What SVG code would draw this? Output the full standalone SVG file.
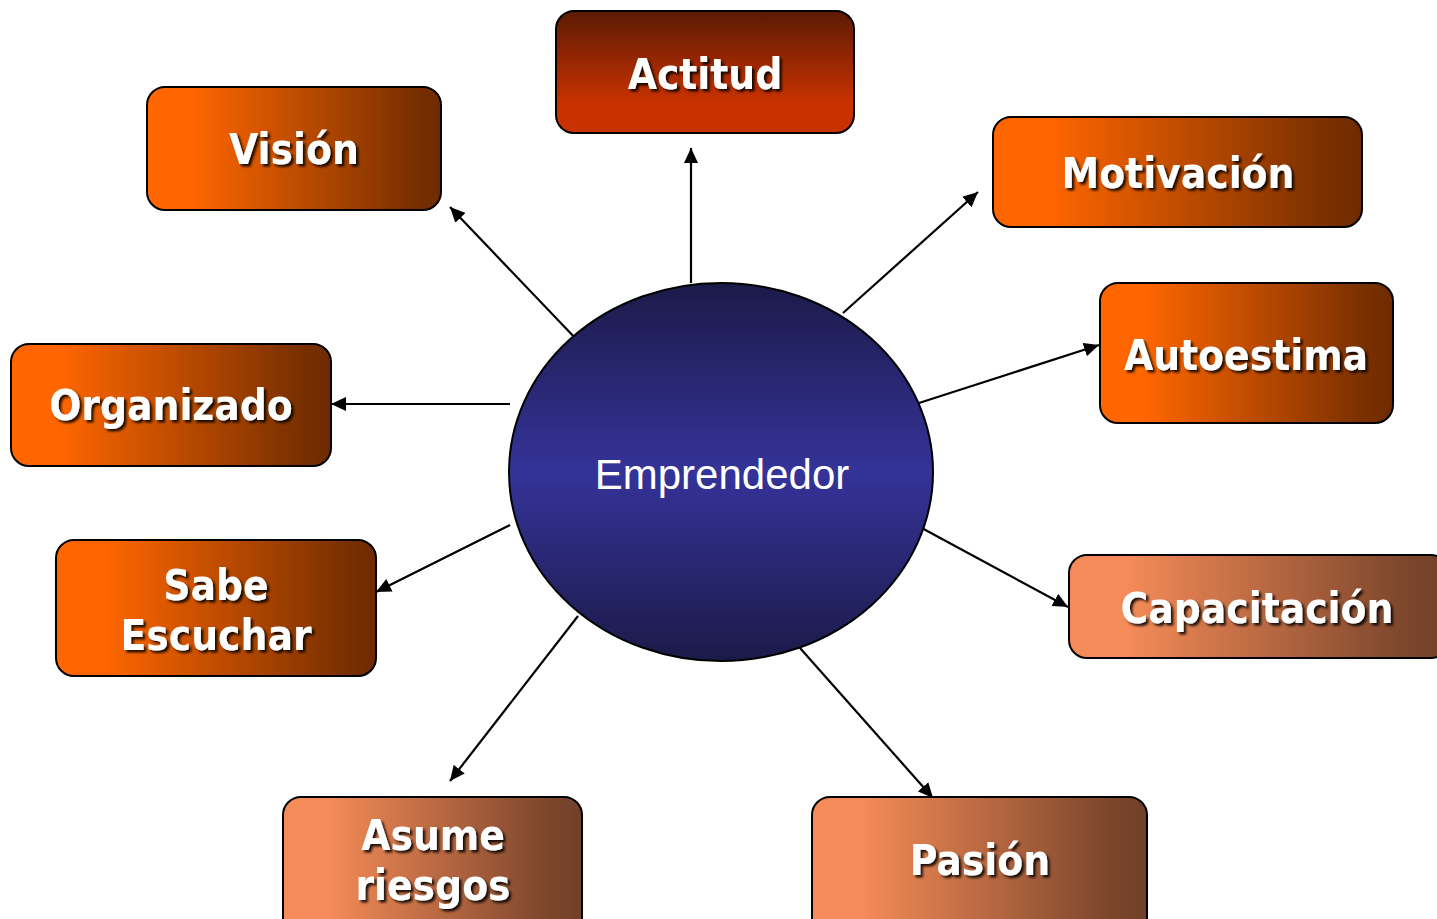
<svg xmlns="http://www.w3.org/2000/svg" width="1437" height="919" viewBox="0 0 1437 919">
  <defs>
    <linearGradient id="gOrange" x1="0" y1="0" x2="1" y2="0">
      <stop offset="0" stop-color="#ff6600"/>
      <stop offset="0.15" stop-color="#ff6600"/>
      <stop offset="0.9" stop-color="#7a3000"/>
      <stop offset="1" stop-color="#6e2a00"/>
    </linearGradient>
    <linearGradient id="gLight" x1="0" y1="0" x2="1" y2="0">
      <stop offset="0" stop-color="#f58b58"/>
      <stop offset="0.15" stop-color="#f58b58"/>
      <stop offset="0.9" stop-color="#7a452b"/>
      <stop offset="1" stop-color="#714029"/>
    </linearGradient>
    <linearGradient id="gRed" x1="0" y1="0" x2="0" y2="1">
      <stop offset="0" stop-color="#5c1a04"/>
      <stop offset="0.75" stop-color="#c83200"/>
      <stop offset="1" stop-color="#c83200"/>
    </linearGradient>
    <linearGradient id="gBlue" x1="0" y1="0" x2="0" y2="1">
      <stop offset="0" stop-color="#1c1a48"/>
      <stop offset="0.5" stop-color="#343399"/>
      <stop offset="1" stop-color="#1c1a48"/>
    </linearGradient>
    <filter id="shadow" x="-10%" y="-20%" width="120%" height="150%">
      <feDropShadow dx="2.5" dy="2.5" stdDeviation="1.2" flood-color="#000" flood-opacity="0.85"/>
    </filter>
    <marker id="arrow" viewBox="0 0 15 14" refX="15" refY="7" markerWidth="15" markerHeight="14" markerUnits="userSpaceOnUse" orient="auto">
      <path d="M0,0 L15,7 L0,14 Z" fill="#000"/>
    </marker>
  </defs>
  <style>
    .box { stroke: #000; stroke-width: 2; }
    .lbl { font-family: "DejaVu Sans Condensed", "DejaVu Sans", sans-serif; font-stretch: condensed; font-weight: bold; font-size: 42px; fill: #fff; text-anchor: middle; filter: url(#shadow); }
    .conn line { stroke: #000; stroke-width: 2.2; marker-end: url(#arrow); }
  </style>

  <rect width="1437" height="919" fill="#fff"/>

  <!-- connectors: from the central ellipse out to each trait -->
  <g id="connectors" class="conn">
    <line x1="691" y1="283" x2="691" y2="148"/>
    <line x1="578" y1="341" x2="450" y2="207"/>
    <line x1="843" y1="313" x2="978" y2="192"/>
    <line x1="919" y1="403" x2="1099" y2="345"/>
    <line x1="510" y1="404" x2="331" y2="404"/>
    <line x1="510" y1="525" x2="376" y2="592"/>
    <line x1="918" y1="526" x2="1068" y2="607"/>
    <line x1="578" y1="616" x2="450" y2="781"/>
    <line x1="800" y1="648" x2="933" y2="798"/>
  </g>

  <!-- central node -->
  <g id="emprendedor">
    <ellipse cx="721" cy="472" rx="212" ry="189" fill="url(#gBlue)" stroke="#000" stroke-width="2"/>
    <text x="722" y="489" font-family="'Liberation Sans', Arial, sans-serif" font-size="42" fill="#fff" text-anchor="middle">Emprendedor</text>
  </g>

  <g id="actitud">
    <rect class="box" x="556" y="11" width="298" height="122" rx="18" fill="url(#gRed)"/>
    <text class="lbl" x="705" y="89">Actitud</text>
  </g>

  <g id="vision">
    <rect class="box" x="147" y="87" width="294" height="123" rx="18" fill="url(#gOrange)"/>
    <text class="lbl" x="294" y="164">Visión</text>
  </g>

  <g id="motivacion">
    <rect class="box" x="993" y="117" width="369" height="110" rx="18" fill="url(#gOrange)"/>
    <text class="lbl" x="1178" y="188">Motivación</text>
  </g>

  <g id="autoestima">
    <rect class="box" x="1100" y="283" width="293" height="140" rx="18" fill="url(#gOrange)"/>
    <text class="lbl" x="1246" y="370">Autoestima</text>
  </g>

  <g id="organizado">
    <rect class="box" x="11" y="344" width="320" height="122" rx="18" fill="url(#gOrange)"/>
    <text class="lbl" x="171" y="420">Organizado</text>
  </g>

  <g id="sabe-escuchar">
    <rect class="box" x="56" y="540" width="320" height="136" rx="18" fill="url(#gOrange)"/>
    <text class="lbl" x="216" y="600">Sabe</text>
    <text class="lbl" x="216" y="650">Escuchar</text>
  </g>

  <g id="capacitacion">
    <rect class="box" x="1069" y="555" width="380" height="103" rx="18" fill="url(#gLight)"/>
    <text class="lbl" x="1257" y="623">Capacitación</text>
  </g>

  <g id="asume-riesgos">
    <rect class="box" x="283" y="797" width="299" height="140" rx="18" fill="url(#gLight)"/>
    <text class="lbl" x="433" y="850">Asume</text>
    <text class="lbl" x="433" y="900">riesgos</text>
  </g>

  <g id="pasion">
    <rect class="box" x="812" y="797" width="335" height="140" rx="18" fill="url(#gLight)"/>
    <text class="lbl" x="980" y="875">Pasión</text>
  </g>
</svg>
